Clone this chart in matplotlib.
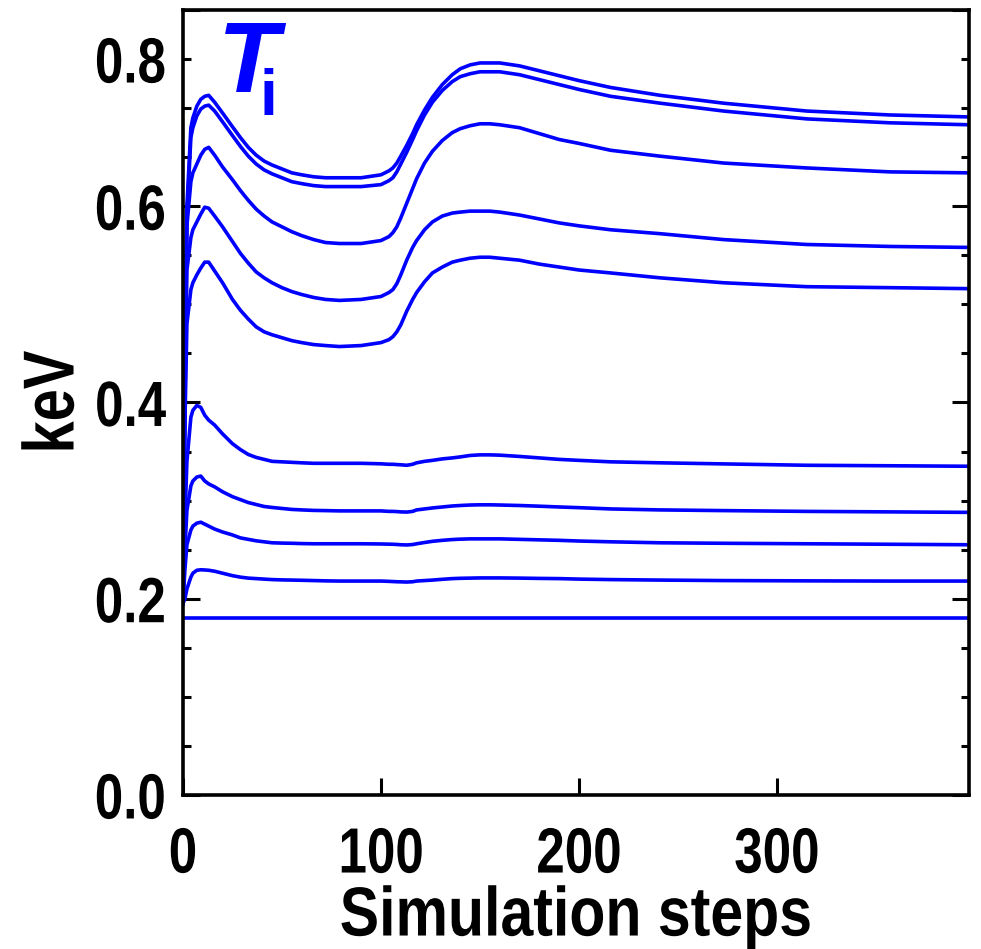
import numpy as np
import matplotlib.pyplot as plt
from matplotlib.ticker import FixedLocator, FuncFormatter
from matplotlib.patheffects import AbstractPathEffect
from matplotlib.transforms import Affine2D

# Ion temperature profiles over the simulation, one line per radial position
steps = [0, 1, 2, 4, 5, 7, 9, 11, 13, 16,
         20, 25, 29, 33, 37, 41, 45, 50, 55, 60,
         66, 72, 79, 90, 100, 104, 106, 108, 110, 113,
         116, 118, 122, 126, 131, 136, 140, 145, 150, 155,
         160, 170, 180, 190, 200, 216, 241, 273, 315, 357,
         397]

ti_a = [0.195, 0.45, 0.60, 0.680, 0.690, 0.702, 0.709, 0.712, 0.713, 0.706,
        0.695, 0.681, 0.670, 0.660, 0.652, 0.646, 0.642, 0.638, 0.634, 0.632,
        0.630, 0.629, 0.629, 0.629, 0.632, 0.636, 0.639, 0.644, 0.651, 0.662,
        0.674, 0.683, 0.698, 0.711, 0.724, 0.734, 0.740, 0.744, 0.746, 0.746,
        0.746, 0.743, 0.738, 0.733, 0.728, 0.721, 0.713, 0.705, 0.697, 0.693,
        0.691]
ti_b = [0.195, 0.44, 0.59, 0.670, 0.680, 0.692, 0.699, 0.702, 0.703, 0.697,
        0.686, 0.672, 0.661, 0.651, 0.643, 0.637, 0.633, 0.629, 0.625, 0.623,
        0.621, 0.620, 0.620, 0.620, 0.622, 0.626, 0.629, 0.635, 0.643, 0.655,
        0.668, 0.677, 0.693, 0.706, 0.718, 0.727, 0.732, 0.735, 0.737, 0.737,
        0.737, 0.734, 0.729, 0.724, 0.719, 0.712, 0.705, 0.697, 0.689, 0.685,
        0.683]
ti_c = [0.195, 0.42, 0.58, 0.625, 0.634, 0.643, 0.652, 0.658, 0.660, 0.652,
        0.640, 0.627, 0.616, 0.606, 0.597, 0.590, 0.584, 0.579, 0.574, 0.570,
        0.566, 0.563, 0.562, 0.562, 0.565, 0.569, 0.573, 0.579, 0.588, 0.603,
        0.618, 0.628, 0.644, 0.656, 0.667, 0.675, 0.679, 0.682, 0.684, 0.684,
        0.683, 0.680, 0.674, 0.668, 0.664, 0.657, 0.651, 0.644, 0.639, 0.635,
        0.634]
ti_d = [0.195, 0.40, 0.535, 0.568, 0.576, 0.584, 0.592, 0.599, 0.598, 0.590,
        0.579, 0.564, 0.552, 0.542, 0.533, 0.527, 0.522, 0.517, 0.513, 0.510,
        0.507, 0.505, 0.504, 0.505, 0.508, 0.512, 0.515, 0.521, 0.530, 0.545,
        0.558, 0.565, 0.576, 0.584, 0.590, 0.593, 0.594, 0.595, 0.595, 0.595,
        0.594, 0.591, 0.587, 0.583, 0.580, 0.576, 0.572, 0.566, 0.561, 0.559,
        0.558]
ti_e = [0.195, 0.38, 0.48, 0.515, 0.522, 0.530, 0.537, 0.543, 0.543, 0.534,
        0.522, 0.505, 0.494, 0.485, 0.477, 0.472, 0.469, 0.466, 0.463, 0.461,
        0.459, 0.458, 0.457, 0.458, 0.461, 0.464, 0.467, 0.472, 0.479, 0.493,
        0.505, 0.512, 0.523, 0.532, 0.538, 0.543, 0.545, 0.547, 0.548, 0.548,
        0.547, 0.545, 0.541, 0.538, 0.535, 0.532, 0.527, 0.522, 0.518, 0.517,
        0.516]
ti_f = [0.195, 0.28, 0.34, 0.385, 0.392, 0.397, 0.395, 0.387, 0.382, 0.377,
        0.368, 0.358, 0.352, 0.347, 0.344, 0.342, 0.340, 0.3395, 0.339, 0.3385,
        0.338, 0.338, 0.338, 0.338, 0.3375, 0.337, 0.337, 0.3367, 0.3365, 0.336,
        0.337, 0.3385, 0.340, 0.341, 0.3425, 0.3435, 0.3445, 0.346, 0.3466, 0.3466,
        0.3463, 0.345, 0.3435, 0.342, 0.341, 0.3395, 0.3385, 0.3374, 0.336, 0.3355,
        0.335]
ti_g = [0.195, 0.25, 0.29, 0.315, 0.320, 0.324, 0.325, 0.320, 0.317, 0.314,
        0.309, 0.304, 0.301, 0.298, 0.296, 0.294, 0.293, 0.292, 0.291, 0.2905,
        0.290, 0.2898, 0.2895, 0.2895, 0.2895, 0.289, 0.289, 0.2888, 0.2885, 0.2883,
        0.289, 0.2905, 0.2915, 0.2925, 0.2935, 0.2945, 0.295, 0.2955, 0.2957, 0.2957,
        0.2955, 0.295, 0.2943, 0.2935, 0.2928, 0.2915, 0.2905, 0.2898, 0.289, 0.2885,
        0.288]
ti_h = [0.195, 0.23, 0.255, 0.270, 0.274, 0.277, 0.278, 0.276, 0.274, 0.271,
        0.268, 0.265, 0.262, 0.2605, 0.259, 0.258, 0.257, 0.2567, 0.2565, 0.2562,
        0.256, 0.256, 0.256, 0.256, 0.2558, 0.2556, 0.2555, 0.2553, 0.255, 0.2548,
        0.2552, 0.256, 0.2573, 0.2585, 0.2595, 0.2603, 0.2607, 0.261, 0.261, 0.261,
        0.261, 0.2605, 0.260, 0.2595, 0.2588, 0.258, 0.257, 0.2565, 0.256, 0.2555,
        0.255]
ti_i = [0.195, 0.200, 0.210, 0.222, 0.226, 0.229, 0.2295, 0.2293, 0.229, 0.228,
        0.226, 0.2235, 0.222, 0.221, 0.2205, 0.220, 0.2195, 0.2192, 0.219, 0.2188,
        0.2185, 0.2182, 0.218, 0.218, 0.218, 0.2177, 0.2175, 0.2173, 0.2172, 0.217,
        0.2173, 0.218, 0.2185, 0.219, 0.2198, 0.2205, 0.2208, 0.221, 0.2212, 0.2212,
        0.2212, 0.221, 0.2207, 0.2205, 0.220, 0.2195, 0.219, 0.2185, 0.2182, 0.218,
        0.218]
ti_j = [0.180] * len(steps)

profiles = [ti_a, ti_b, ti_c, ti_d, ti_e, ti_f, ti_g, ti_h, ti_i, ti_j]

ytick_major = [0.0, 0.2, 0.4, 0.6, 0.8]
ytick_labels = ['0.0', '0.2', '0.4', '0.6', '']
xtick_major = [0, 100, 200, 300]


class Narrow(AbstractPathEffect):
    """Squeeze glyphs sideways so the bold face reads like a condensed one."""

    def __init__(self, sx=0.8, anchor='center'):
        super().__init__()
        self.sx = sx
        self.anchor = anchor

    def draw_path(self, renderer, gc, tpath, affine, rgbFace=None):
        ext = tpath.get_extents()
        x0 = {'left': ext.x0, 'center': 0.5 * (ext.x0 + ext.x1), 'right': ext.x1}[self.anchor]
        squeeze = Affine2D().translate(-x0, 0).scale(self.sx, 1).translate(x0, 0)
        renderer.draw_path(gc, tpath, squeeze + affine, rgbFace)


plt.rcParams['font.family'] = ['Liberation Sans', 'DejaVu Sans']
plt.rcParams['font.weight'] = 'bold'

fig = plt.figure(figsize=(9.81, 9.49), dpi=100)
ax = fig.add_axes([0.1865, 0.1623, 0.8013, 0.8272])

for ti in profiles:
    ax.plot(steps, ti, color='#0000ff', lw=2.6, solid_joinstyle='round')

ax.set_xlim(0, 397)
ax.set_ylim(0, 0.8)

ax.set_xticks(xtick_major)
ax.set_xticklabels([str(v) for v in xtick_major])
ax.set_yticks(ytick_major)
ax.set_yticklabels(ytick_labels)

# minor ticks every 0.05; the top label sits on the 0.75 minor tick
minor = [v for v in np.arange(0.05, 0.8, 0.05) if abs(v / 0.2 - round(v / 0.2)) > 1e-6]
ax.yaxis.set_minor_locator(FixedLocator(minor))
ax.yaxis.set_minor_formatter(FuncFormatter(lambda v, p: '0.8' if abs(v - 0.75) < 1e-6 else ''))

ax.tick_params(axis='y', which='major', direction='in', length=12, width=2.2,
               left=True, right=True, labelsize=46, pad=12)
ax.tick_params(axis='y', which='minor', direction='in', length=6, width=2.2,
               left=True, right=True, labelsize=46, pad=12)
ax.tick_params(axis='x', which='major', direction='in', length=12, width=2.2,
               top=False, labelsize=46, pad=22)

for s in ax.spines.values():
    s.set_linewidth(2.6)

for lbl in ax.get_yticklabels(which='both'):
    lbl.set_path_effects([Narrow(0.8, 'right')])
for lbl in ax.get_xticklabels():
    lbl.set_path_effects([Narrow(0.8, 'center')])

ax.set_xlabel('Simulation steps', fontsize=50, fontweight='bold', labelpad=0,
              path_effects=[Narrow(0.85, 'center')])
ax.set_ylabel('keV', fontsize=52, fontweight='bold', labelpad=-8,
              path_effects=[Narrow(0.8, 'center')])

# T_i title inside the frame
ax.text(0.044, 0.896, 'T', transform=ax.transAxes, color='#0000ff', fontsize=72,
        fontstyle='italic', fontweight='bold')
ax.text(0.097, 0.866, 'i', transform=ax.transAxes, color='#0000ff', fontsize=46,
        fontweight='bold')

fig.savefig('out.png', dpi=100)
